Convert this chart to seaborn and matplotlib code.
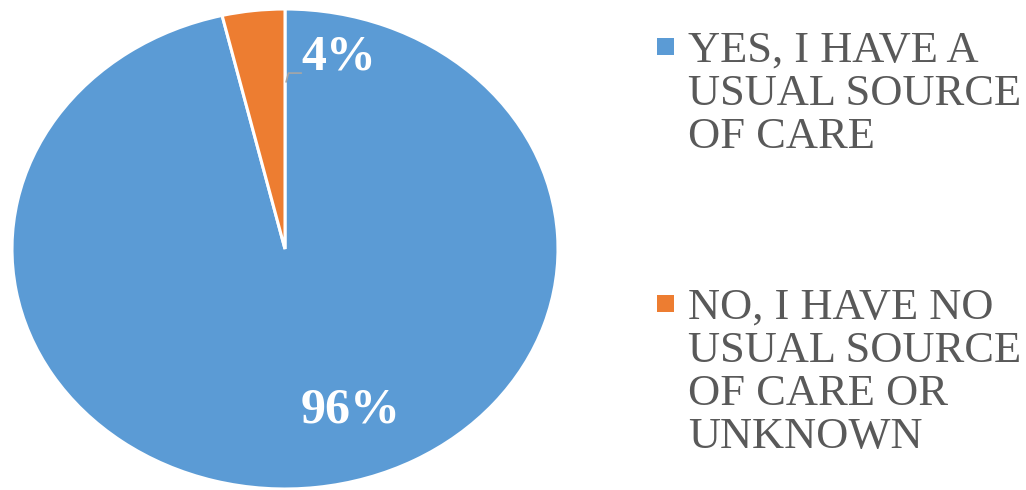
import matplotlib
matplotlib.use("Agg")
import matplotlib.pyplot as plt
from matplotlib.patches import Rectangle
import seaborn as sns

# Data
labels = ["YES, I HAVE A\nUSUAL SOURCE\nOF CARE",
          "NO, I HAVE NO\nUSUAL SOURCE\nOF CARE OR\nUNKNOWN"]
shares = [96.3, 3.7]
colors = ["#5B9BD5", "#ED7D31"]

sns.set_theme(style="white")
plt.rcParams['font.family'] = ['Liberation Serif', 'DejaVu Serif']

W, H = 1026, 490
fig = plt.figure(figsize=(W / 100, H / 100), dpi=100)
# pie is stretched horizontally in the original, so aspect is left auto
ax = fig.add_axes([12 / W, 1 / H, 546 / W, 480 / H])

wedges, texts, autotexts = ax.pie(
    shares, colors=colors, startangle=90, counterclock=False,
    autopct='%.0f%%', radius=1,
    wedgeprops=dict(edgecolor='white', linewidth=2.2),
    textprops=dict(color='white', fontsize=36, fontweight='bold'))
ax.set_aspect('auto')
ax.set_xlim(-1, 1)
ax.set_ylim(-1, 1)

# label placement as in the original
autotexts[0].set_position((0.242, -0.672))
autotexts[1].set_position((0.198, 0.800))
for t in autotexts:
    t.set_ha('center')
    t.set_va('center')

# small leader line for the 4% label
ax.annotate('', xy=(0.004, 0.696), xytext=(0.06, 0.733),
            arrowprops=dict(arrowstyle='-', color='#A6A6A6', lw=1.2,
                            shrinkA=0, shrinkB=0,
                            connectionstyle='angle,angleA=180,angleB=75,rad=0'))

# legend drawn by hand: marker sits beside the first line of each label
legend_tops = [31, 288]
for w, lab, top in zip(wedges, labels, legend_tops):
    fig.patches.append(Rectangle((657 / W, 1 - (top + 24) / H), 17 / W, 17 / H,
                                 transform=fig.transFigure,
                                 facecolor=w.get_facecolor(), edgecolor='none'))
    fig.text(688 / W, 1 - top / H, lab, ha='left', va='top',
             fontsize=32, color='#595959', linespacing=1.1)

fig.savefig("out.png", dpi=100)
